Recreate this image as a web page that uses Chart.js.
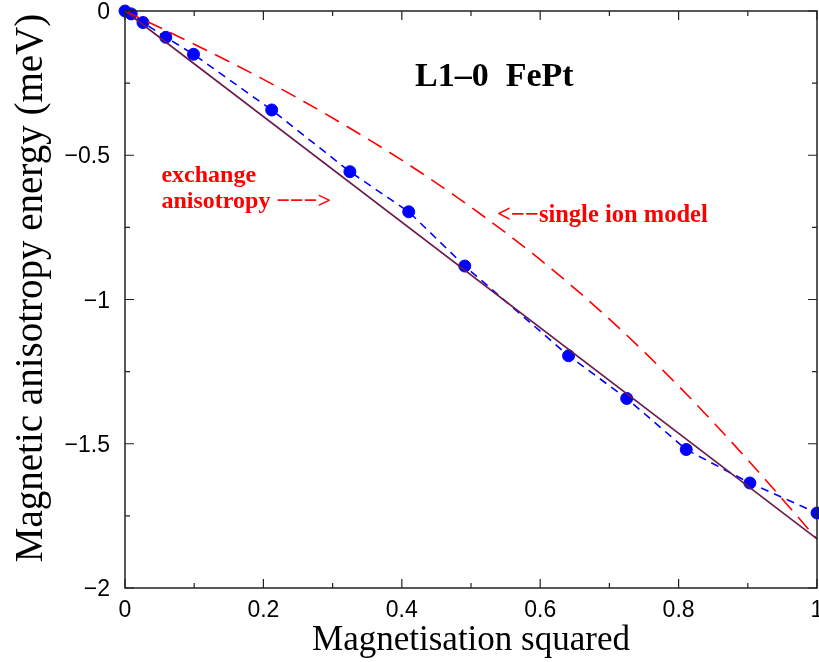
<!DOCTYPE html>
<html>
<head>
    <title>L1-0 FePt anisotropy</title>
    <meta charset="UTF-8">
    <script src="https://cdn.jsdelivr.net/npm/chart.js@4.4.0/dist/chart.umd.min.js"></script>
    <style>
        html, body { margin: 0; padding: 0; background: #fff; }
        #wrap { width: 819px; height: 662px; }
    </style>
</head>
<body>
<div id="wrap">
    <canvas id="myChart" width="819" height="662"></canvas>
</div>
<script>
    // calculated points (blue dots joined by dashes)
    var m2Calc = [0, 0.009, 0.026, 0.059, 0.099, 0.212, 0.325, 0.41, 0.491, 0.641, 0.725, 0.811, 0.903, 1.0];
    var eCalc  = [0, -0.01, -0.04, -0.091, -0.15, -0.343, -0.557, -0.696, -0.884, -1.195, -1.343, -1.52, -1.636, -1.74];

    // single ion model curve (red long dashes)
    var m2Ion = [0, 0.1, 0.2, 0.3, 0.4, 0.5, 0.6, 0.7, 0.8, 0.9, 1.0];
    var eIon  = [0, -0.115, -0.237, -0.371, -0.517, -0.68, -0.862, -1.068, -1.30, -1.556, -1.83];

    // exchange anisotropy straight line
    var m2Exch = [0, 1.0];
    var eExch  = [0, -1.83];

    // axis ticks
    var xMajor = [0, 0.2, 0.4, 0.6, 0.8, 1];
    var xMinor = [0.1, 0.3, 0.5, 0.7, 0.9];
    var yMajor = [0, -0.5, -1, -1.5, -2];
    var yMinor = [-0.25, -0.75, -1.25, -1.75];
    var xTickLabels = ['0', '0.2', '0.4', '0.6', '0.8', '1'];
    var yTickLabels = ['0', '\u22120.5', '\u22121', '\u22121.5', '\u22122'];
    var yTitle = 'Magnetic anisotropy energy (meV)';

    var serif = '"Liberation Serif", "Times New Roman", serif';

    function pts(xs, ys) {
        return xs.map(function (x, i) { return { x: x, y: ys[i] }; });
    }

    // frame, inward ticks on all four sides, tick labels, y title and the text notes
    var framePlugin = {
        id: 'frame',
        afterDraw: function (chart) {
            var ctx = chart.ctx;
            var a = chart.chartArea;
            var xs = chart.scales.x, ys = chart.scales.y;
            ctx.save();
            ctx.strokeStyle = '#222';
            ctx.lineWidth = 1.5;
            ctx.strokeRect(a.left, a.top, a.right - a.left, a.bottom - a.top);

            ctx.lineWidth = 1.2;
            ctx.beginPath();
            function xt(v, len) {
                var px = xs.getPixelForValue(v);
                ctx.moveTo(px, a.bottom); ctx.lineTo(px, a.bottom - len);
                ctx.moveTo(px, a.top); ctx.lineTo(px, a.top + len);
            }
            function yt(v, len) {
                var py = ys.getPixelForValue(v);
                ctx.moveTo(a.left, py); ctx.lineTo(a.left + len, py);
                ctx.moveTo(a.right, py); ctx.lineTo(a.right - len, py);
            }
            xMajor.forEach(function (v) { xt(v, 9); });
            xMinor.forEach(function (v) { xt(v, 5); });
            yMajor.forEach(function (v) { yt(v, 9); });
            yMinor.forEach(function (v) { yt(v, 5); });
            ctx.stroke();

            ctx.fillStyle = '#000';
            ctx.font = '23px "Liberation Sans", Arial, sans-serif';
            ctx.textAlign = 'center';
            ctx.textBaseline = 'alphabetic';
            xMajor.forEach(function (v, i) {
                ctx.fillText(xTickLabels[i], xs.getPixelForValue(v), a.bottom + 29);
            });
            ctx.textAlign = 'right';
            yMajor.forEach(function (v, i) {
                ctx.fillText(yTickLabels[i], a.left - 15, ys.getPixelForValue(v) + 8);
            });

            // rotated y axis title
            ctx.save();
            ctx.translate(42, 288);
            ctx.rotate(-Math.PI / 2);
            ctx.textAlign = 'center';
            ctx.font = '39px ' + serif;
            ctx.fillText(yTitle, 0, 0);
            ctx.restore();

            ctx.textAlign = 'left';
            ctx.font = 'bold 34px ' + serif;
            ctx.fillText('L1\u20130  FePt', xs.getPixelForValue(0.419), ys.getPixelForValue(-0.26));

            ctx.fillStyle = '#ff0000';
            ctx.font = 'bold 24px ' + serif;
            ctx.fillText('exchange', xs.getPixelForValue(0.0527), ys.getPixelForValue(-0.591));
            ctx.fillText('anisotropy \u2212\u2212\u2212>', xs.getPixelForValue(0.0527), ys.getPixelForValue(-0.683));
            ctx.font = 'bold 24.5px ' + serif;
            ctx.fillText('<\u2212\u2212single ion model', xs.getPixelForValue(0.5376), ys.getPixelForValue(-0.730));
            ctx.restore();
        }
    };

    var ctx = document.getElementById('myChart').getContext('2d');
    var chart = new Chart(ctx, {
        type: 'scatter',
        data: {
            datasets: [
                {
                    label: 'exchange anisotropy',
                    data: pts(m2Exch, eExch),
                    showLine: true,
                    borderColor: '#6a1a4c',
                    borderWidth: 1.6,
                    pointRadius: 0
                },
                {
                    label: 'single ion model',
                    data: pts(m2Ion, eIon),
                    showLine: true,
                    borderColor: '#ff0000',
                    borderWidth: 1.6,
                    borderDash: [16, 9],
                    cubicInterpolationMode: 'monotone',
                    pointRadius: 0
                },
                {
                    label: 'calculated',
                    data: pts(m2Calc, eCalc),
                    showLine: true,
                    borderColor: '#0000ff',
                    borderWidth: 1.6,
                    borderDash: [8, 6],
                    pointRadius: 6,
                    pointBackgroundColor: '#0000ff',
                    pointBorderColor: '#0000ff',
                    pointBorderWidth: 1
                }
            ]
        },
        options: {
            responsive: false,
            animation: false,
            devicePixelRatio: 1,
            clip: false,
            layout: { autoPadding: false, padding: { top: 11, right: 2, left: 0, bottom: 0 } },
            plugins: {
                legend: { display: false },
                tooltip: { enabled: false }
            },
            scales: {
                x: {
                    type: 'linear',
                    min: 0,
                    max: 1,
                    grid: { display: false },
                    border: { display: false },
                    ticks: { display: false },
                    title: {
                        display: true,
                        text: 'Magnetisation squared',
                        color: '#000',
                        font: { family: serif, size: 35 },
                        padding: { top: 0, bottom: 0 }
                    },
                    afterFit: function (scale) { scale.height = 74; }
                },
                y: {
                    type: 'linear',
                    min: -2,
                    max: 0,
                    grid: { display: false },
                    border: { display: false },
                    ticks: { display: false },
                    title: { display: false },
                    afterFit: function (scale) { scale.width = 125; }
                }
            }
        },
        plugins: [framePlugin]
    });
</script>
</body>
</html>
